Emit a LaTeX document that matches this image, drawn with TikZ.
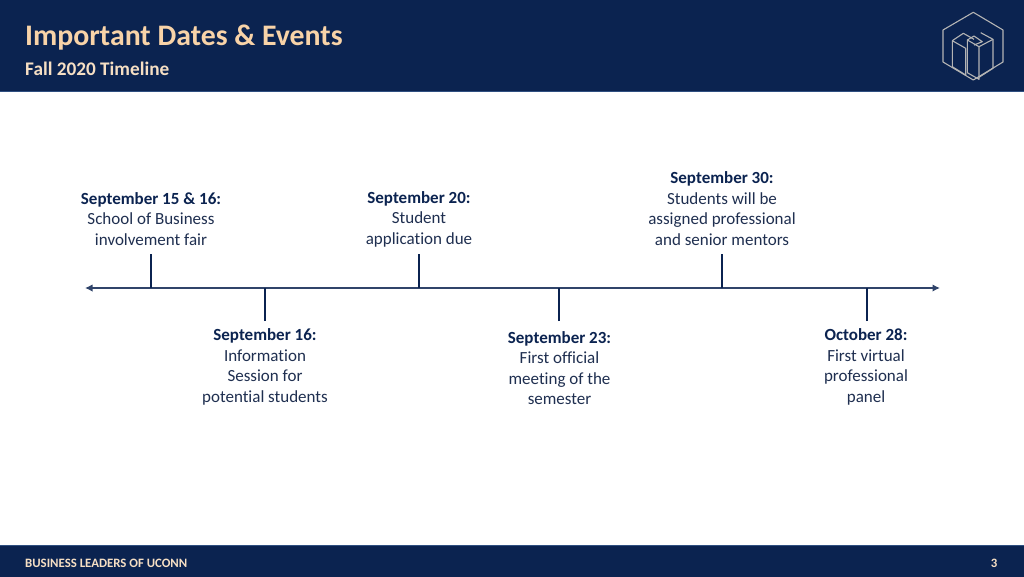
\documentclass[tikz,border=0pt]{standalone}
\usepackage{fontspec}
\setmainfont[Ligatures=CommonOff]{Carlito}
\usetikzlibrary{arrows.meta}
\definecolor{navy}{HTML}{0B2350}
\definecolor{edgeblue}{HTML}{2F4F80}
\definecolor{peach}{HTML}{F8D3A8}
\definecolor{cream}{HTML}{F6DFC4}
\definecolor{ink}{HTML}{0B2350}
\definecolor{bodyink}{HTML}{1F2F50}
\definecolor{logo}{HTML}{B4B4B4}
\tikzset{
  bar/.style={fill=navy,draw=edgeblue,line width=0.8pt},
  event/.style={align=center,inner sep=0pt,text=bodyink,font=\fontsize{17}{20.5}\selectfont},
  axisline/.style={draw=ink!85!white,line width=1.6pt,{Latex[length=7.5pt,width=7.5pt]}-{Latex[length=7.5pt,width=7.5pt]}},
  tick/.style={draw=ink,line width=1.7pt},
  logoline/.style={draw=logo,line width=1.1pt,line join=round},
}
\newcommand{\hd}[1]{\textbf{\textcolor{ink}{#1}}}
\begin{document}
\begin{tikzpicture}[x=1pt,y=-1pt]
\useasboundingbox (0,0) rectangle (1024,576);
\fill[white] (0,0) rectangle (1024,576);
\path[bar] (-1,-1) rectangle (1025,91.5);
\path[bar] (-1,545) rectangle (1025,577);
\node[anchor=base west,inner sep=0pt,text=peach,font=\fontsize{29.8}{32}\selectfont\bfseries] (title) at (25,45) {Important Dates \& Events};
\node[anchor=base west,inner sep=0pt,text=cream,font=\fontsize{19.25}{20}\selectfont\bfseries] (subtitle) at (25,75) {Fall 2020 Timeline};
\node[anchor=base west,inner sep=0pt,text=cream,font=\fontsize{12.8}{14}\selectfont\bfseries] (footer) at (25,567) {BUSINESS LEADERS OF UCONN};
\node[anchor=base,inner sep=0pt,text=cream,font=\fontsize{12.8}{14}\selectfont\bfseries] (page) at (994,567) {3};
% logo
\draw[logoline] (973.3,12.3)--(1003,30)--(1003,62)--(973.3,80)--(943,62)--(943,30)--cycle;
\draw[logoline] (952.3,40.7)--(965.7,48.3)--(965.7,75)--(952.3,66.7)--cycle;
\draw[logoline] (952.3,40.7)--(963.3,33.3)--(974,39.3);
\draw[logoline] (967.3,40)--(979,46.7)--(979,79.3)--(967.3,72.7)--cycle;
\draw[logoline] (967.3,40)--(974,36)--(982.3,41.7)--(974,45);
\draw[logoline] (980.7,32.7)--(993,39.3)--(993,68.3)--(979,77.3);
\draw[logoline] (993,39.3)--(979,46.7);
% axis
\coordinate (axisL) at (85,288);
\coordinate (axisR) at (940,288);
\draw[axisline] (axisL)--(axisR);
\foreach \n/\x/\y in {a/151/254,b/265/321,c/419/254,d/559/321,e/722/254,f/867/321}{
  \coordinate (t\n) at (\x,\y);
  \coordinate (o\n) at (\x,288);
  \draw[tick] (t\n)--(o\n);
}
\node[event] (ev1) at (151,219) {\hd{September 15 \& 16:}\\School of Business\\involvement fair};
\node[event] (ev2) at (419,219) {\hd{September 20:}\\Student\\application due};
\node[event] (ev3) at (722,208.5) {\hd{September 30:}\\Students will be\\assigned professional\\and senior mentors};
\node[event] (ev4) at (265,367) {\hd{September 16:}\\Information\\Session for\\potential students};
\node[event] (ev5) at (559.5,368.2) {\hd{September 23:}\\First official\\meeting of the\\semester};
\node[event] (ev6) at (866,367) {\hd{October 28:}\\First virtual\\professional\\panel};
\end{tikzpicture}
\end{document}
